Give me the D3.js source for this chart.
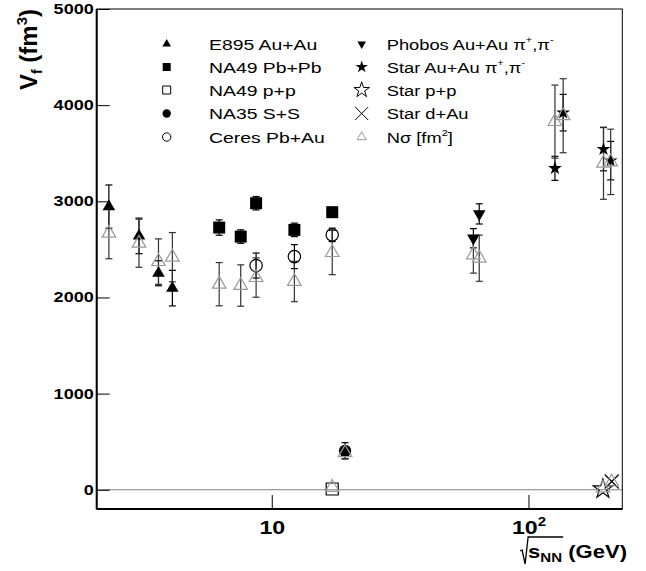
<!DOCTYPE html>
<html>
<head>
<meta charset="utf-8">
<script src="https://cdn.jsdelivr.net/npm/d3@7"></script>
<style>
  body { margin: 0; background: #fff; }
  svg { display: block; }
</style>
</head>
<body>
<div id="chart"></div>
<script>
// E895 Au+Au (filled triangle up)
const e895X = [2.32, 3.04, 3.62, 4.10];
const e895Y = [2945, 2640, 2252, 2097];
const e895Err = [225, 185, 130, 185];
// NA49 Pb+Pb (filled square)
const na49X = [6.24, 7.57, 8.69, 12.25, 17.2];
const na49Y = [2727, 2633, 2980, 2703, 2887];
const na49Err = [80, 70, 70, 70, 30];
// NA49 p+p (open square)
const na49ppX = [17.2];
const na49ppY = [8];
const na49ppErr = [0];
// NA35 S+S (filled circle)
const na35X = [19.3];
const na35Y = [405];
const na35Err = [85];
// Ceres Pb+Au (open circle)
const ceresX = [8.69, 12.25, 17.2];
const ceresY = [2332, 2425, 2651];
const ceresErr = [130, 125, 70];
// Phobos Au+Au (filled triangle down)
const phobosX = [61, 64.3];
const phobosY = [2616, 2869];
const phobosErr = [100, 105];
// Star Au+Au (filled star)
const starX = [126.8, 136.5, 196, 209];
const starY = [3343, 3922, 3542, 3423];
const starErr = [125, 190, 225, 200];
// Star p+p (open star)
const starppX = [195];
const starppY = [8];
// Star d+Au (cross)
const stardAuX = [211];
const stardAuY = [86];
// N sigma (grey open triangle)
const nsigX = [2.32, 3.04, 3.62, 4.10, 6.24, 7.57, 8.69, 12.25, 17.2, 17.2, 19.3, 61, 64.3, 126.8, 136.5, 196, 209, 195, 211];
const nsigY = [2668, 2564, 2373, 2419, 2138, 2124, 2207, 2166, 2467, 25, 385, 2443, 2408, 3829, 3890, 3396, 3410, 18, 80];
const nsigErr = [265, 250, 236, 256, 225, 215, 205, 210, 230, 0, 60, 190, 240, 380, 385, 375, 340, 0, 0];

const yMajor = [0, 1000, 2000, 3000, 4000, 5000];
const xMajor = [10, 100];
const xMajorLabels = ["10", "10^{2}"];

const legendCol1 = ["E895 Au+Au", "NA49 Pb+Pb", "NA49 p+p", "NA35 S+S", "Ceres Pb+Au"];
const legendCol2 = ["Phobos Au+Au π^{+},π^{-}", "Star Au+Au  π^{+},π^{-}", "Star p+p", "Star d+Au", "Nσ [fm^{2}]"];

const W = 646, H = 571;
const FONT = "'Liberation Sans', Arial, Helvetica, sans-serif";
const plot = { left: 96.7, right: 622.3, top: 9, bottom: 509 };

const svg = d3.select("#chart").append("svg")
  .attr("width", W).attr("height", H)
  .style("font-family", FONT);

const x = d3.scaleLog().domain([2.08, 232]).range([plot.left, plot.right]);
const y = d3.scaleLinear().domain([-200, 5000]).range([plot.bottom, plot.top]);

// markers
const sym = (type, size) => d3.symbol().type(type).size(size)();
function crossPath(h) { return `M${-h},${-h}L${h},${h}M${-h},${h}L${h},${-h}`; }
const markers = {
  triUp:   { d: sym(d3.symbolTriangle, 68), fill: "#000", stroke: "none", rot: 0 },
  triDown: { d: sym(d3.symbolTriangle, 68), fill: "#000", stroke: "none", rot: 180 },
  square:  { d: sym(d3.symbolSquare, 144), fill: "#000", stroke: "none", rot: 0 },
  osquare: { d: sym(d3.symbolSquare, 144), fill: "none", stroke: "#000", rot: 0 },
  circle:  { d: sym(d3.symbolCircle, 120), fill: "#000", stroke: "none", rot: 0 },
  ocircle: { d: sym(d3.symbolCircle, 120), fill: "none", stroke: "#000", rot: 0 },
  star:    { d: sym(d3.symbolStar, 60), fill: "#000", stroke: "none", rot: 0 },
  ostar:   { d: sym(d3.symbolStar, 115), fill: "none", stroke: "#000", rot: 0 },
  cross:   { d: crossPath(7), fill: "none", stroke: "#000", rot: 0 },
  nsig:    { d: sym(d3.symbolTriangle, 80), fill: "none", stroke: "#9a9a9a", rot: 0 }
};
const legendMarkers = {
  triUp:   { d: sym(d3.symbolTriangle, 32), fill: "#000", stroke: "none", rot: 0 },
  triDown: { d: sym(d3.symbolTriangle, 32), fill: "#000", stroke: "none", rot: 180 },
  square:  { d: sym(d3.symbolSquare, 64), fill: "#000", stroke: "none", rot: 0 },
  osquare: { d: sym(d3.symbolSquare, 64), fill: "none", stroke: "#000", rot: 0 },
  circle:  { d: sym(d3.symbolCircle, 55), fill: "#000", stroke: "none", rot: 0 },
  ocircle: { d: sym(d3.symbolCircle, 55), fill: "none", stroke: "#000", rot: 0 },
  star:    { d: sym(d3.symbolStar, 48), fill: "#000", stroke: "none", rot: 0 },
  ostar:   { d: sym(d3.symbolStar, 75), fill: "none", stroke: "#000", rot: 0 },
  cross:   { d: crossPath(6.5), fill: "none", stroke: "#000", rot: 0 },
  nsig:    { d: sym(d3.symbolTriangle, 36), fill: "none", stroke: "#9a9a9a", rot: 0 }
};

// rich text: supports ^{..} superscripts
function richText(sel, str, size, supScale) {
  const k = supScale || 0.6;
  const parts = str.split(/(\^\{[^}]*\})/).filter(s => s.length);
  let up = false;
  parts.forEach(p => {
    if (p.startsWith("^{")) {
      sel.append("tspan").attr("dy", -size * 0.42).style("font-size", (size * k) + "px").text(p.slice(2, -1));
      up = true;
    } else {
      const t = sel.append("tspan").text(p);
      if (up) { t.attr("dy", size * 0.42); up = false; }
    }
  });
}

// zero line
svg.append("line")
  .attr("x1", plot.left).attr("x2", plot.right)
  .attr("y1", y(0)).attr("y2", y(0))
  .attr("stroke", "#808080").attr("stroke-width", 1.2);

// axes
const gy = svg.append("g").attr("transform", `translate(${plot.left},0)`);
gy.call(d3.axisLeft(y).tickValues(d3.range(-200, 5001, 200)).tickSize(-7).tickFormat(""));
gy.call(d3.axisLeft(y).tickValues(yMajor).tickSize(-13).tickPadding(2.3).tickFormat(d3.format("d")));
gy.selectAll(".domain").remove();
gy.selectAll("line").attr("stroke", "#000");
gy.selectAll("text")
  .attr("transform", "scale(1.29,1)")
  .style("font-size", "14px").style("font-weight", "bold")
  .style("font-family", FONT).attr("fill", "#000");

const minorX = [];
[1, 10, 100].forEach(dec => { for (let k = 2; k <= 9; k++) { const v = k * dec; if (v > 2.08 && v < 232 && v !== 10 && v !== 100) minorX.push(v); } });
const gx = svg.append("g").attr("transform", `translate(0,${plot.bottom})`);
gx.call(d3.axisBottom(x).tickValues(minorX).tickSize(-7).tickFormat(""));
gx.call(d3.axisBottom(x).tickValues(xMajor).tickSize(-14).tickPadding(11).tickFormat(""));
gx.selectAll(".domain").remove();
gx.selectAll("line").attr("stroke", "#000");
gx.selectAll(".tick").filter(d => xMajor.includes(d)).each(function(d) {
  const t = d3.select(this).select("text")
    .attr("transform", "scale(1.22,1)")
    .attr("y", 25).attr("dy", null)
    .style("font-size", "19px").style("font-weight", "bold")
    .style("font-family", FONT).attr("fill", "#000");
  t.text(null);
  richText(t, xMajorLabels[xMajor.indexOf(d)], 19, 0.65);
});

svg.append("rect")
  .attr("x", plot.left).attr("y", plot.top)
  .attr("width", plot.right - plot.left).attr("height", plot.bottom - plot.top)
  .attr("fill", "none").attr("stroke", "#000").attr("stroke-width", 1);
svg.append("line").attr("x1", plot.left).attr("x2", plot.left).attr("y1", plot.top).attr("y2", plot.bottom)
  .attr("stroke", "#000").attr("stroke-width", 2);
svg.append("line").attr("x1", plot.left).attr("x2", plot.right).attr("y1", plot.bottom).attr("y2", plot.bottom)
  .attr("stroke", "#000").attr("stroke-width", 2);

// series
const gBars = svg.append("g");
const gMarks = svg.append("g");
const gNsig = svg.append("g");

function drawSeries(xs, ys, errs, m, gBar, gMark, barColor) {
  const pts = xs.map((v, i) => ({ x: v, y: ys[i], e: errs ? errs[i] : 0 }));
  const withErr = pts.filter(p => p.e > 0);
  const col = barColor || "#000";
  gBar.selectAll(null).data(withErr).enter().append("line")
    .attr("x1", p => x(p.x)).attr("x2", p => x(p.x))
    .attr("y1", p => y(p.y + p.e)).attr("y2", p => y(p.y - p.e))
    .attr("stroke", col).attr("stroke-width", 1.2);
  [1, -1].forEach(s => {
    gBar.selectAll(null).data(withErr).enter().append("line")
      .attr("x1", p => x(p.x) - 3.5).attr("x2", p => x(p.x) + 3.5)
      .attr("y1", p => y(p.y + s * p.e)).attr("y2", p => y(p.y + s * p.e))
      .attr("stroke", col).attr("stroke-width", 1.2);
  });
  gMark.selectAll(null).data(pts).enter().append("path")
    .attr("d", m.d)
    .attr("transform", p => `translate(${x(p.x)},${y(p.y)}) rotate(${m.rot})`)
    .attr("fill", m.fill).attr("stroke", m.stroke).attr("stroke-width", 1.2);
}

drawSeries(e895X, e895Y, e895Err, markers.triUp, gBars, gMarks);
drawSeries(na49X, na49Y, na49Err, markers.square, gBars, gMarks);
drawSeries(na49ppX, na49ppY, na49ppErr, markers.osquare, gBars, gMarks);
drawSeries(na35X, na35Y, na35Err, markers.circle, gBars, gMarks);
drawSeries(ceresX, ceresY, ceresErr, markers.ocircle, gBars, gMarks);
drawSeries(phobosX, phobosY, phobosErr, markers.triDown, gBars, gMarks);
drawSeries(starX, starY, starErr, markers.star, gBars, gMarks);
drawSeries(starppX, starppY, null, markers.ostar, gBars, gMarks);
drawSeries(stardAuX, stardAuY, null, markers.cross, gBars, gMarks);
drawSeries(nsigX, nsigY, nsigErr, markers.nsig, gBars, gNsig, "#333");

// legend
const legRows = [44, 67, 90, 113.5, 137];
const legKeys1 = ["triUp", "square", "osquare", "circle", "ocircle"];
const legKeys2 = ["triDown", "star", "ostar", "cross", "nsig"];
function legendColumn(labels, keys, mx, tx, sx) {
  labels.forEach((lab, i) => {
    const m = legendMarkers[keys[i]];
    svg.append("path").attr("d", m.d)
      .attr("transform", `translate(${mx},${legRows[i]}) rotate(${m.rot})`)
      .attr("fill", m.fill).attr("stroke", m.stroke).attr("stroke-width", 1);
    const t = svg.append("text")
      .attr("transform", `translate(${tx},${legRows[i] + 5.5}) scale(${sx},1)`)
      .style("font-size", "15.5px").attr("fill", "#000");
    richText(t, lab, 15.5, 0.6);
  });
}
legendColumn(legendCol1, legKeys1, 166.7, 209, 1.25);
legendColumn(legendCol2, legKeys2, 361.7, 386.7, 1.18);

// y title
const yt = svg.append("text")
  .attr("transform", "translate(37,9) rotate(-90)")
  .attr("text-anchor", "end")
  .style("font-size", "24px").style("font-weight", "bold");
yt.append("tspan").text("V");
yt.append("tspan").attr("dy", 5).style("font-size", "14px").text("f");
yt.append("tspan").attr("dy", -5).text(" (fm");
yt.append("tspan").attr("dy", -10).style("font-size", "15px").text("3");
yt.append("tspan").attr("dy", 10).text(")");

// x title with radical
const xtX = 627, xtY = 558, xtS = 1.16;
const xt = svg.append("text")
  .attr("transform", `translate(${xtX},${xtY}) scale(${xtS},1)`)
  .attr("text-anchor", "end")
  .style("font-size", "19px").style("font-weight", "bold");
xt.append("tspan").text("s");
xt.append("tspan").attr("dy", 4).style("font-size", "13px").text("NN");
xt.append("tspan").attr("dy", -4).text(" (GeV)");
const node = xt.node();
const a = xtX + xtS * node.getStartPositionOfChar(0).x;
const b = xtX + xtS * node.getEndPositionOfChar(2).x;
svg.append("path")
  .attr("d", `M${a - 8},${xtY - 7} L${a - 6},${xtY - 8} L${a - 3},${xtY + 6} L${a},${xtY - 21} L${b + 1},${xtY - 21}`)
  .attr("fill", "none").attr("stroke", "#000").attr("stroke-width", 1.3);
</script>
</body>
</html>
